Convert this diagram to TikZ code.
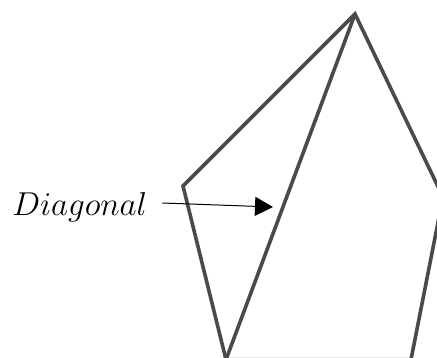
\documentclass[tikz,border=0pt]{standalone}
\usepackage{tikz}
\usetikzlibrary{arrows.meta,positioning}
\definecolor{edgegray}{HTML}{4A4A4A}

\begin{document}
\begin{tikzpicture}[x=1pt, y=-1pt,
  side/.style={draw=edgegray, line width=3.6pt, line join=miter},
  lab/.style={font=\Huge, scale=1.33, inner sep=1.5pt},
  ar/.style={-{Triangle[length=18pt, width=19pt]}, line width=1pt, draw=black}
]
  \useasboundingbox (0,0) rectangle (437,358);
  \clip (0,0) rectangle (437,358);
  % pentagon corners
  \coordinate (top) at (355,14);
  \coordinate (rt) at (443,197);
  \coordinate (br) at (411,359.6);
  \coordinate (bl) at (226,359.6);
  \coordinate (lf) at (183,186);
  \draw[side] (top) -- (rt) -- (br) -- (bl) -- (lf) -- cycle;
  \draw[side] (top) -- (bl);
  % label
  \node[lab, anchor=base west] (dg) at (10,216) {$Diagonal$};
  \coordinate (tip) at (273,207);
  \draw[ar] ([xshift=13pt,yshift=13pt]dg.base east) -- (tip);
\end{tikzpicture}
\end{document}
